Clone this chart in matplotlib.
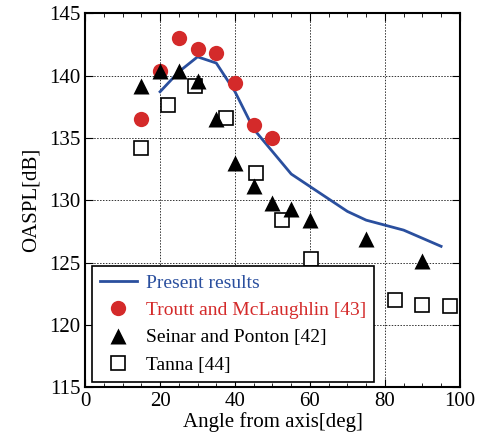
import numpy as np
import matplotlib
matplotlib.use('Agg')
import matplotlib.pyplot as plt
from matplotlib.ticker import MultipleLocator

plt.rcParams['font.family'] = ['Liberation Serif', 'DejaVu Serif']
plt.rcParams['mathtext.fontset'] = 'stix'

# Present results (simulation)
present_angle = [20, 25, 30, 35, 40, 45, 50, 55, 60, 70, 75, 85, 95]
present_oaspl = [138.7, 140.3, 141.5, 141.0, 138.7, 135.7, 133.9, 132.1, 131.1, 129.1, 128.4, 127.6, 126.3]

# Troutt and McLaughlin [43]
troutt_angle = [15, 20, 25, 30, 35, 40, 45, 50]
troutt_oaspl = [136.5, 140.35, 143.05, 142.1, 141.8, 139.4, 136.0, 135.0]

# Seinar and Ponton [42]
seinar_angle = [15, 20, 25, 30, 35, 40, 45, 50, 55, 60, 75, 90]
seinar_oaspl = [139.2, 140.4, 140.4, 139.6, 136.5, 133.0, 131.1, 129.8, 129.3, 128.4, 126.85, 125.1]

# Tanna [44]
tanna_angle = [15, 22, 29.3, 37.6, 45.6, 52.6, 60.4, 82.6, 89.8, 97.5]
tanna_oaspl = [134.15, 137.6, 139.15, 136.6, 132.2, 128.4, 125.25, 122.0, 121.6, 121.5]

fig = plt.figure(figsize=(4.81, 4.40), dpi=100)
ax = fig.add_axes([0.177, 0.12, 0.779, 0.85])

ax.plot(present_angle, present_oaspl, '-', color='#2a4f9e', lw=2, label='Present results', zorder=3)
ax.plot(troutt_angle, troutt_oaspl, 'o', color='#d42a2a', ms=11, mec='none',
        label='Troutt and McLaughlin [43]', zorder=4)
ax.plot(seinar_angle, seinar_oaspl, '^', color='black', ms=11, mec='none',
        label='Seinar and Ponton [42]', zorder=5)
ax.plot(tanna_angle, tanna_oaspl, 's', mfc='white', mec='black', mew=1.2, ms=10.5,
        label='Tanna [44]', zorder=2)

ax.set_xlim(0, 100)
ax.set_ylim(115, 145)
ax.xaxis.set_major_locator(MultipleLocator(20))
ax.xaxis.set_minor_locator(MultipleLocator(5))
ax.yaxis.set_major_locator(MultipleLocator(5))
ax.tick_params(which='both', direction='in', top=True, right=True, labelsize=15)
ax.tick_params(which='major', length=6)
ax.tick_params(which='minor', length=3)
ax.grid(True, which='major', linestyle=(0, (1.5, 1.5)), color='#333333', lw=0.7)
for s in ax.spines.values():
    s.set_linewidth(1.5)

ax.set_xlabel('Angle from axis[deg]', fontsize=15, labelpad=1)
ax.set_ylabel('OASPL[dB]', fontsize=15, labelpad=6)

leg = ax.legend(loc='lower left', bbox_to_anchor=(0.018, 0.015), fontsize=14,
                frameon=True, fancybox=False, edgecolor='black', framealpha=1,
                handlelength=1.9, handletextpad=0.5, borderpad=0.4, labelspacing=0.5,
                borderaxespad=0)
leg.get_frame().set_linewidth(1.2)
for txt, c in zip(leg.get_texts(), ['#2a4f9e', '#d42a2a', 'black', 'black']):
    txt.set_color(c)

plt.savefig('out.png', dpi=100)
